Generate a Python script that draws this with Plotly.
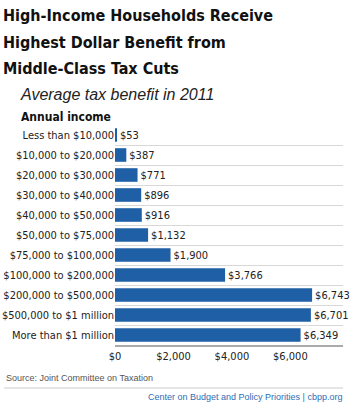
import plotly.graph_objects as go

categories = ["Less than $10,000", "$10,000 to $20,000", "$20,000 to $30,000",
              "$30,000 to $40,000", "$40,000 to $50,000", "$50,000 to $75,000",
              "$75,000 to $100,000", "$100,000 to $200,000", "$200,000 to $500,000",
              "$500,000 to $1 million", "More than $1 million"]
benefit = [53, 387, 771, 896, 916, 1132, 1900, 3766, 6743, 6701, 6349]
tick_vals = [0, 2000, 4000, 6000]
tick_text = ["$0", "$2,000", "$4,000", "$6,000"]

W, H = 360, 404
L, R, T, B = 115, 17, 125, 59
PW, PH = W - L - R, H - T - B

def px(x):
    return (x - L) / PW

def py(y):
    return (H - B - y) / PH

COND = "DejaVu Sans Condensed, sans-serif"
SANS = "Liberation Sans, Arial, sans-serif"
BAR = "#1f5fa5"

fig = go.Figure(go.Bar(
    y=categories, x=benefit, orientation="h",
    marker=dict(color=BAR, line=dict(width=0)),
    width=0.68,
    text=[f"${v:,}" for v in benefit], textposition="outside",
    textfont=dict(family=COND, size=11, color="#222"),
    cliponaxis=False, hoverinfo="skip",
))

title_lines = ["High-Income Households Receive", "Highest Dollar Benefit from", "Middle-Class Tax Cuts"]
annotations = []
for i, line in enumerate(title_lines):
    annotations.append(dict(text=f"<b>{line}</b>", x=px(1), y=py(15 + 27 * i),
                            xref="paper", yref="paper", xanchor="left", yanchor="middle",
                            showarrow=False, font=dict(family=COND, size=16, color="#111")))
annotations += [
    dict(text="<i>Average tax benefit in 2011</i>", x=px(18), y=py(95), xref="paper", yref="paper",
         xanchor="left", yanchor="middle", showarrow=False,
         font=dict(family=SANS, size=16, color="#222")),
    dict(text="<b>Annual income</b>", x=px(113), y=py(117), xref="paper", yref="paper",
         xanchor="right", yanchor="middle", showarrow=False,
         font=dict(family=COND, size=12, color="#111")),
    dict(text="Source: Joint Committee on Taxation", x=px(4), y=py(378), xref="paper", yref="paper",
         xanchor="left", yanchor="middle", showarrow=False,
         font=dict(family=SANS, size=9, color="#555")),
    dict(text="Center on Budget and Policy Priorities | cbpp.org", x=px(344), y=py(397),
         xref="paper", yref="paper", xanchor="right", yanchor="middle", showarrow=False,
         font=dict(family=SANS, size=9, color="#2f6db5")),
]

fig.update_layout(
    width=W, height=H,
    margin=dict(l=L, r=R, t=T, b=B),
    paper_bgcolor="white", plot_bgcolor="white",
    showlegend=False,
    xaxis=dict(range=[0, 7800], tickvals=tick_vals, ticktext=tick_text, automargin=False,
               showgrid=False, zeroline=False, showline=True, linecolor="#aaa", linewidth=2,
               ticks="", tickfont=dict(family=COND, size=11, color="#222")),
    yaxis=dict(categoryorder="array", categoryarray=categories[::-1], automargin=False,
               tickson="boundaries", showgrid=True, gridcolor="#d8d8d8", gridwidth=1,
               ticks="", showline=False, zeroline=False,
               tickfont=dict(family=COND, size=11, color="#222")),
    annotations=annotations,
    shapes=[dict(type="line", xref="paper", yref="paper", x0=px(4), x1=px(343),
                 y0=py(388), y1=py(388), line=dict(color="#ccc", width=1))],
)

fig.write_html("out.html", config={"displayModeBar": False},
               post_script="document.body.style.margin='0';document.body.style.overflow='hidden';")
